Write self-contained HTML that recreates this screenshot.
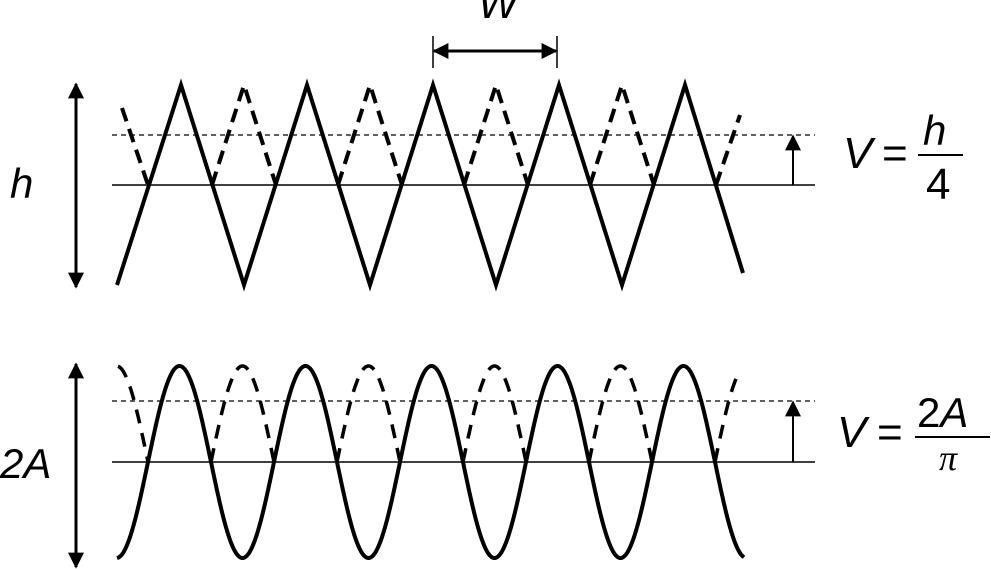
<!DOCTYPE html>
<html><head><meta charset="utf-8"><style>
html,body{margin:0;padding:0;background:#fff;}
svg{display:block}
text{font-family:"Liberation Sans",sans-serif;font-style:italic;fill:#000}
</style></head><body>
<svg width="991" height="569" viewBox="0 0 991 569" xmlns="http://www.w3.org/2000/svg">
<defs>
<marker id="ah" viewBox="0 0 10 10" refX="9" refY="5" markerWidth="16" markerHeight="18" markerUnits="userSpaceOnUse" orient="auto-start-reverse"><path d="M0,0L10,5L0,10z" fill="#000"/></marker>
</defs>
<line x1="112" y1="185" x2="815" y2="185" stroke="#000" stroke-width="1.5"/>
<line x1="112" y1="135" x2="815" y2="135" stroke="#000" stroke-width="1.2" stroke-dasharray="5,4"/>
<polyline fill="none" stroke="#000" stroke-width="4" points="117,285 181,85 244,285 307,85 370,285 433,85 496,285 559,85 622,285 685,85 743,273"/>
<g fill="none" stroke="#000" stroke-width="4" stroke-dasharray="14,8">
<polyline points="122,108 148,185"/>
<polyline points="212,185 244,85 276,185"/>
<polyline points="338,185 370,85 402,185"/>
<polyline points="464,185 496,85 528,185"/>
<polyline points="590,185 622,85 654,185"/>
<polyline points="716,185 740,115"/>
</g>
<line x1="112" y1="462" x2="815" y2="462" stroke="#000" stroke-width="1.5"/>
<line x1="112" y1="401" x2="815" y2="401" stroke="#000" stroke-width="1.2" stroke-dasharray="5,4"/>
<path id="sine" fill="none" stroke="#000" stroke-width="4" d=""/>
<path id="rsine" fill="none" stroke="#000" stroke-width="3.5" stroke-dasharray="14,10" d=""/>
<line x1="76" y1="84" x2="76" y2="287" stroke="#000" stroke-width="3" marker-start="url(#ah)" marker-end="url(#ah)"/>
<line x1="76" y1="364" x2="76" y2="567" stroke="#000" stroke-width="3" marker-start="url(#ah)" marker-end="url(#ah)"/>
<line x1="433" y1="36" x2="433" y2="68" stroke="#000" stroke-width="1.5"/>
<line x1="557" y1="36" x2="557" y2="68" stroke="#000" stroke-width="1.5"/>
<line x1="434" y1="51" x2="556" y2="51" stroke="#000" stroke-width="3" marker-start="url(#ah)" marker-end="url(#ah)"/>
<text x="478" y="18" font-size="42">W</text>
<line x1="793" y1="185" x2="793" y2="136" stroke="#000" stroke-width="2" marker-end="url(#ah)"/>
<line x1="793" y1="462" x2="793" y2="402" stroke="#000" stroke-width="2" marker-end="url(#ah)"/>
<text x="10" y="198" font-size="42">h</text>
<text x="0" y="478" font-size="42">2A</text>
<text x="843" y="168" font-size="44">V</text>
<text x="882" y="168" font-size="44" style="font-style:normal">=</text>
<text x="923" y="145" font-size="42">h</text>
<line x1="918" y1="155" x2="963" y2="155" stroke="#000" stroke-width="2"/>
<text x="926" y="199" font-size="44" style="font-style:normal">4</text>
<text x="837" y="447" font-size="44">V</text>
<text x="877" y="447" font-size="44" style="font-style:normal">=</text>
<text x="917" y="427" font-size="42" style="font-style:normal">2<tspan style="font-style:italic">A</tspan></text>
<line x1="915" y1="437" x2="990" y2="437" stroke="#000" stroke-width="2"/>
<text x="939" y="470" font-size="36" style="font-family:'Liberation Serif',serif;font-style:italic">π</text>
</svg>
<script>
(function(){
var x0=148,P=126,A=96,m=462,d="",r="";
for(var x=117;x<=744;x+=1){var y=m-A*Math.sin(2*Math.PI*(x-x0)/P);d+=(x==117?"M":"L")+x+","+y.toFixed(1);}
document.getElementById("sine").setAttribute("d",d);
var segs=[[118,150],[211,276],[337,402],[463,528],[589,654],[715,736]];
segs.forEach(function(s){for(var x=s[0];x<=s[1];x+=1){var y=m-A*Math.abs(Math.sin(2*Math.PI*(x-x0)/P));r+=(x==s[0]?"M":"L")+x+","+y.toFixed(1);}});
document.getElementById("rsine").setAttribute("d",r);
})();
</script>
</body></html>
